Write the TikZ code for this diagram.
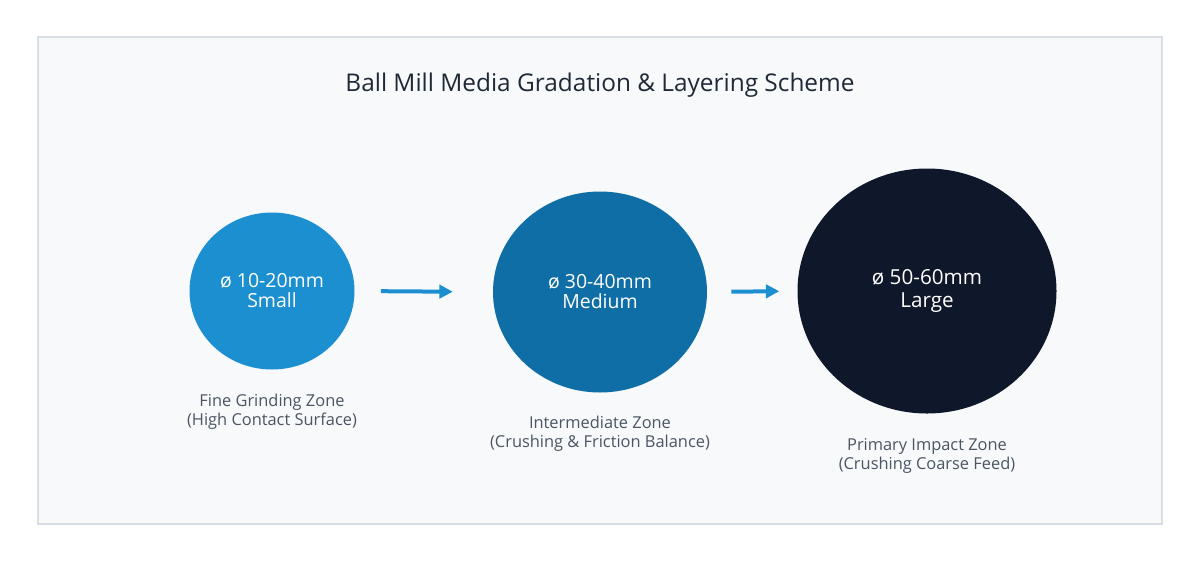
\documentclass[tikz,border=0pt]{standalone}
\usepackage{fontspec}
\setmainfont{Open Sans}
\usetikzlibrary{arrows.meta,shapes.geometric}

\definecolor{framefill}{HTML}{F8F9FB}
\definecolor{frameline}{HTML}{D9DEE6}
\definecolor{ballsmall}{HTML}{1B8FD0}
\definecolor{ballmedium}{HTML}{0F6EA6}
\definecolor{balllarge}{HTML}{0F172A}
\definecolor{titletext}{HTML}{1F2937}
\definecolor{zonetext}{HTML}{4B5563}

\tikzset{
  ball/.style={ellipse,inner sep=0pt,text=white,align=center,font=\fontsize{14.6}{15}\selectfont},
  zone/.style={align=center,text=zonetext,font=\fontsize{12.3}{14.5}\selectfont},
  feed/.style={-{Triangle[length=10pt,width=10pt]},line width=3pt,draw=ballsmall}
}

\begin{document}
\begin{tikzpicture}[x=0.75pt,y=-0.75pt]
    \useasboundingbox (0,0) rectangle (1200,562);
    \draw[fill=framefill,draw=frameline,line width=1.5pt] (38,37) rectangle (1162,524);
    \node[text=titletext,font=\fontsize{18.3}{20}\selectfont] (title) at (600,85) {Ball Mill Media Gradation \& Layering Scheme};

    % the three ball sizes
    \node[ball,fill=ballsmall,minimum width=165*0.75pt,minimum height=157*0.75pt] (small) at (272,291) {ø 10-20mm\\Small};
    \node[ball,fill=ballmedium,minimum width=214*0.75pt,minimum height=201*0.75pt] (medium) at (600,292) {ø 30-40mm\\Medium};
    \node[ball,fill=balllarge,minimum width=259*0.75pt,minimum height=245*0.75pt,font=\fontsize{15.5}{17}\selectfont] (large) at (927,291) {ø 50-60mm\\Large};

    \node[zone] (zs) at (272,412) {Fine Grinding Zone\\(High Contact Surface)};
    \node[zone] (zm) at (600,434) {Intermediate Zone\\(Crushing \& Friction Balance)};
    \node[zone] (zl) at (927,456) {Primary Impact Zone\\(Crushing Coarse Feed)};

    \draw[feed,shorten <=26*0.75pt,shorten >=40*0.75pt] (small.east) -- (medium.west);
    \draw[feed,shorten <=24*0.75pt,shorten >=18*0.75pt] (medium.east) -- (large.west);
  \end{tikzpicture}
\end{document}
